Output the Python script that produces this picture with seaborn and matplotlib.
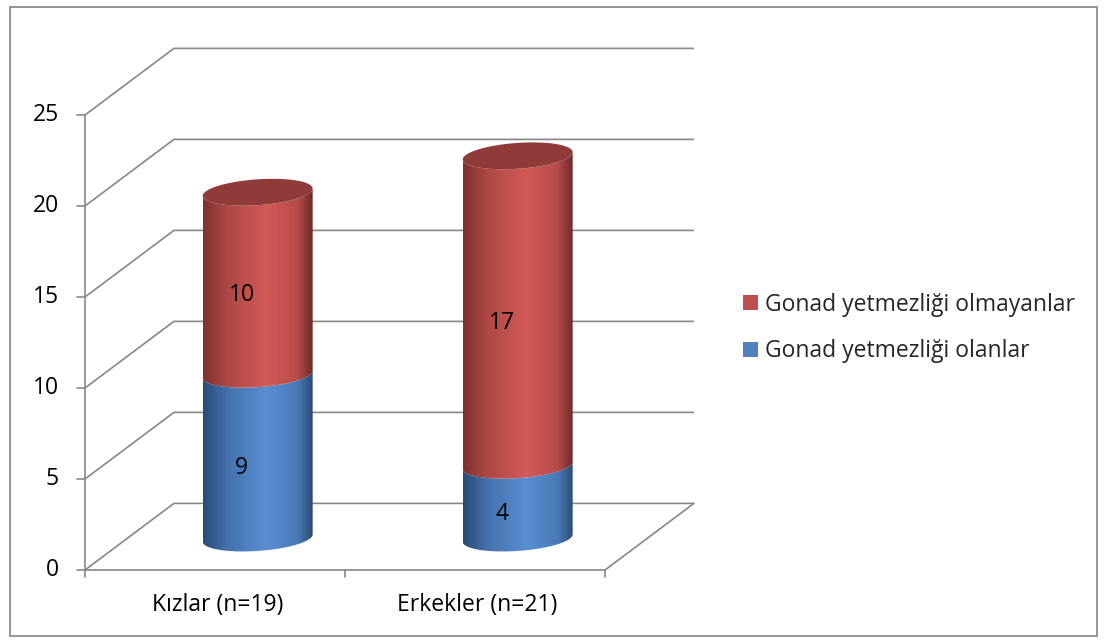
import numpy as np
import pandas as pd
import matplotlib
matplotlib.use("Agg")
import matplotlib.pyplot as plt
import seaborn as sns
from matplotlib.path import Path
from matplotlib.patches import PathPatch, Rectangle, Patch
from matplotlib.colors import LinearSegmentedColormap

# ---- data ----
groups = ["Kızlar (n=19)", "Erkekler (n=21)"]
olanlar = [9, 4]            # Gonad yetmezliği olanlar
olmayanlar = [10, 17]       # Gonad yetmezliği olmayanlar
series_names = ["Gonad yetmezliği olmayanlar", "Gonad yetmezliği olanlar"]
y_ticks = [0, 5, 10, 15, 20, 25]

# ---- style ----
sns.set_theme(style="white")
plt.rcParams["font.family"] = ["Open Sans", "DejaVu Sans"]
FS = 16.5

RED = "#C0504D"
BLUE = "#4F81BD"
GRID = "#878787"
red_cmap = LinearSegmentedColormap.from_list(
    "red_cyl", [(0, "#7C3230"), (0.22, "#AE4846"), (0.58, "#D35A57"),
                (0.86, "#B84C4A"), (1, "#6C2A28")])
blue_cmap = LinearSegmentedColormap.from_list(
    "blue_cyl", [(0, "#2B4B76"), (0.22, "#4472AD"), (0.58, "#5A8ED2"),
                 (0.86, "#4A7BB8"), (1, "#2E4C73")])
TOP_RED = "#8E3B39"

fig = plt.figure(figsize=(11.04, 6.43), dpi=100)
ax = fig.add_axes([0, 0, 1, 1])

# bars through seaborn: stacked by overlaying totals and the lower series
totals = [a + b for a, b in zip(olanlar, olmayanlar)]
BAR_W = 0.423
sns.barplot(x=groups, y=totals, ax=ax, width=BAR_W, color=RED)
n_tot = len(ax.patches)
sns.barplot(x=groups, y=olanlar, ax=ax, width=BAR_W, color=BLUE)
bars_total = ax.patches[:n_tot]
bars_low = ax.patches[n_tot:]
for p in ax.patches:
    p.set_visible(False)

# view: category units horizontally, value units vertically
ax.set_xlim(-0.8269, 3.4192)
ax.set_ylim(-4.011, 31.319)
ax.set_axis_off()

# oblique projection of the 3-D box
DX, DY = 0.342, 3.66


def proj(x, v, d):
    return x + d * DX, v + d * DY


x_left, x_right = -0.5, len(groups) - 0.5

# walls and gridlines
for t in y_ticks:
    x0, v0 = proj(x_left, t, 0)
    x1, v1 = proj(x_left, t, 1)
    x2, v2 = proj(x_right, t, 1)
    ax.plot([x0, x1, x2], [v0, v1, v2], color=GRID, lw=1.2, zorder=1,
            solid_capstyle="butt")
# floor right edge and front edges
fx0, fv0 = proj(x_right, 0, 0)
fx1, fv1 = proj(x_right, 0, 1)
ax.plot([fx0, fx1], [fv0, fv1], color=GRID, lw=1.2, zorder=1)
ax.plot([x_left, x_right], [0, 0], color=GRID, lw=1.2, zorder=1)
ax.plot([x_left, x_left], [0, y_ticks[-1]], color=GRID, lw=1.2, zorder=1)

# tick marks and labels
tick_dx = 8 / 260
tick_dv = 7 / 18.2
for t in y_ticks:
    ax.plot([x_left - tick_dx, x_left], [t, t], color=GRID, lw=1.2, zorder=1)
    ax.text(x_left - 26 / 260, t, f"{t}", ha="right", va="center",
            fontsize=FS, color="black")
for xb in np.arange(x_left, x_right + 0.01, 1.0):
    ax.plot([xb, xb], [0, -tick_dv], color=GRID, lw=1.2, zorder=1)
for i, g in enumerate(groups):
    ax.text(i + 0.01, -1.95, g, ha="center", va="center", fontsize=FS,
            color="black")

# cylinders
D_CYL = 0.48
D_LAB = 0.30
B = 0.71      # half height of the elliptical caps (value units)
SH = 0.20     # slight tilt of the caps


def arc(cx, a, v, t0, t1, n=60):
    t = np.linspace(t0, t1, n)
    return np.column_stack([cx + a * np.cos(t), v + B * np.sin(t) + SH * np.cos(t)])


def segment(cx, a, v0, v1, cmap, z):
    lower = arc(cx, a, v0, np.pi, 2 * np.pi)
    upper = arc(cx, a, v1, 2 * np.pi, np.pi)
    verts = np.vstack([lower, upper, lower[:1]])
    codes = [Path.MOVETO] + [Path.LINETO] * (len(verts) - 2) + [Path.CLOSEPOLY]
    patch = PathPatch(Path(verts, codes), facecolor="none", edgecolor="none", zorder=z)
    ax.add_patch(patch)
    grad = np.linspace(0, 1, 256).reshape(1, -1)
    im = ax.imshow(grad, cmap=cmap, aspect="auto", interpolation="bilinear",
                   extent=[cx - a, cx + a, v0 - B - SH, v1 + B + SH], zorder=z)
    im.set_clip_path(patch)


def cap(cx, a, v, color, z):
    e = arc(cx, a, v, 0, 2 * np.pi, 120)
    codes = [Path.MOVETO] + [Path.LINETO] * (len(e) - 2) + [Path.CLOSEPOLY]
    ax.add_patch(PathPatch(Path(e, codes), facecolor=color, edgecolor="none", zorder=z))


for i, (pt, pl) in enumerate(zip(bars_total, bars_low)):
    xc_front = pt.get_x() + pt.get_width() / 2
    a = pt.get_width() / 2
    top = pt.get_height()
    mid = pl.get_height()
    cx, base = proj(xc_front, 0, D_CYL)
    segment(cx, a, base, base + mid, blue_cmap, 3)
    segment(cx, a, base + mid, base + top, red_cmap, 4)
    cap(cx, a, base + top, TOP_RED, 5)
    # value labels
    lx, lv = proj(xc_front, mid / 2, D_LAB)
    ax.text(lx, lv, f"{olanlar[i]}", ha="center", va="center", fontsize=FS,
            color="black", zorder=6)
    lx, lv = proj(xc_front, (mid + top) / 2, D_LAB)
    ax.text(lx, lv, f"{olmayanlar[i]}", ha="center", va="center", fontsize=FS,
            color="black", zorder=6)

# legend
handles = [Patch(facecolor=RED, edgecolor="none"), Patch(facecolor=BLUE, edgecolor="none")]
fig.legend(handles, series_names, loc="center left",
           bbox_to_anchor=(743 / 1104, 1 - 328 / 643), frameon=False,
           fontsize=FS, handlelength=0.66, handleheight=0.66,
           handletextpad=0.3, labelspacing=1.0, borderpad=0, borderaxespad=0)

# outer chart border
fig.add_artist(Rectangle((10 / 1104, 7 / 643), 1087 / 1104, 629 / 643,
                         transform=fig.transFigure, fill=False,
                         edgecolor="#8C8C8C", lw=1.3))

fig.savefig("out.png", dpi=100)
